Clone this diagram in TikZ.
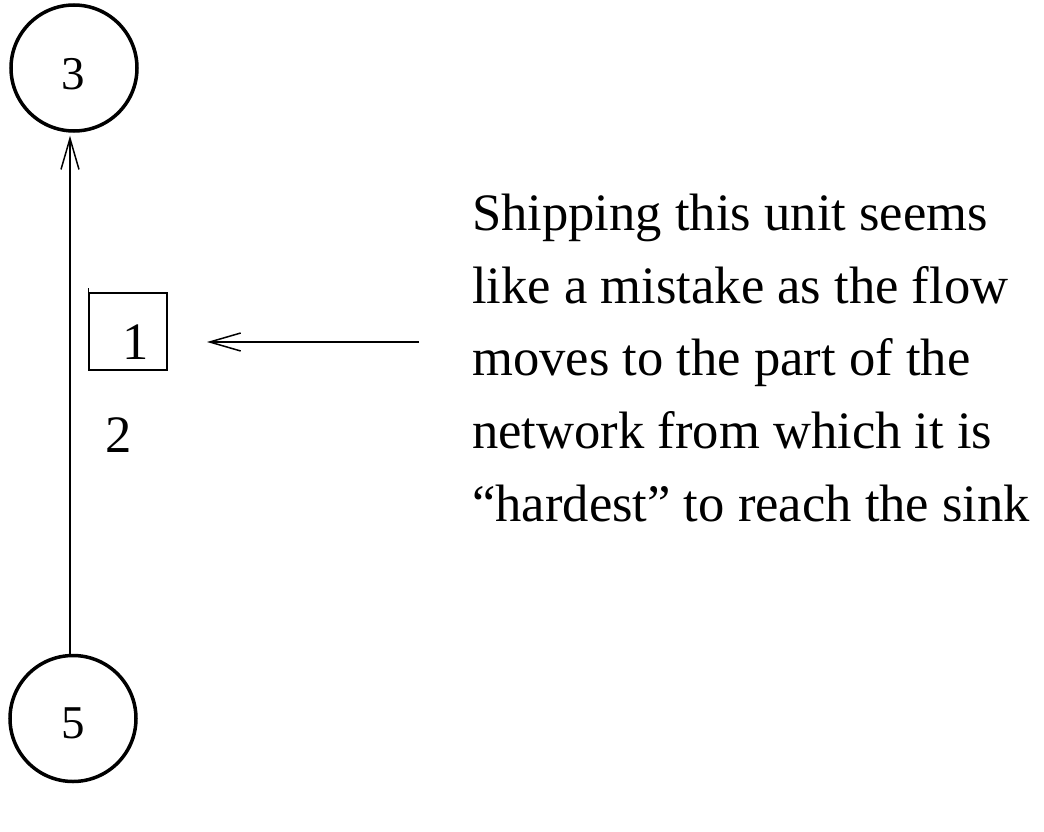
\documentclass[tikz,border=0pt]{standalone}
\usepackage{fontspec}
\setmainfont{Liberation Serif}
\usetikzlibrary{arrows.meta}
\begin{document}
\begin{tikzpicture}[x=1pt,y=-1pt,
  vertex/.style={draw,circle,line width=3.5pt,minimum size=126pt,inner sep=0pt},
  big/.style={font=\fontsize{52.6}{72.7}\selectfont,inner sep=0pt},
  small/.style={font=\fontsize{47}{60}\selectfont,inner sep=0pt},
  tip/.style={-{Straight Barb[length=31pt,width=18pt,line width=1.5pt]}}]
\useasboundingbox (0,0) rectangle (1044,832);
\node[vertex] (n3) at (74,68) {};
\node[vertex] (n5) at (73,718.5) {};
\node[small,anchor=base] (l3) at (73,90) {3};
\node[small,anchor=base] (l5) at (73,738) {5};
\draw[tip,line width=2.5pt,shorten >=3pt] ([xshift=-3pt]n5.north) -- ([xshift=-4pt]n3.south);
\node[draw,line width=1.5pt,minimum width=78pt,minimum height=77pt,inner sep=0pt] (box) at (128,331.5) {};
\draw[line width=1.5pt] (box.north west) -- ++(0,-4);
\node[big,anchor=base] (one) at (136,359) {1};
\node[big,anchor=base] (two) at (119,452) {2};
\coordinate (as) at (419,342);
\coordinate (ae) at (207,342);
\draw[tip,line width=1.5pt] (as) -- (ae);
\node[big,anchor=base west] (t1) at (472,230.5) {Shipping this unit seems};
\node[big,anchor=base west] (t2) at (472,303.2) {like a mistake as the flow};
\node[big,anchor=base west] (t3) at (472,375.9) {moves to the part of the};
\node[big,anchor=base west] (t4) at (472,448.6) {network from which it is};
\node[big,anchor=base west] (t5) at (472,521.3) {“hardest” to reach the sink};
\end{tikzpicture}
\end{document}
